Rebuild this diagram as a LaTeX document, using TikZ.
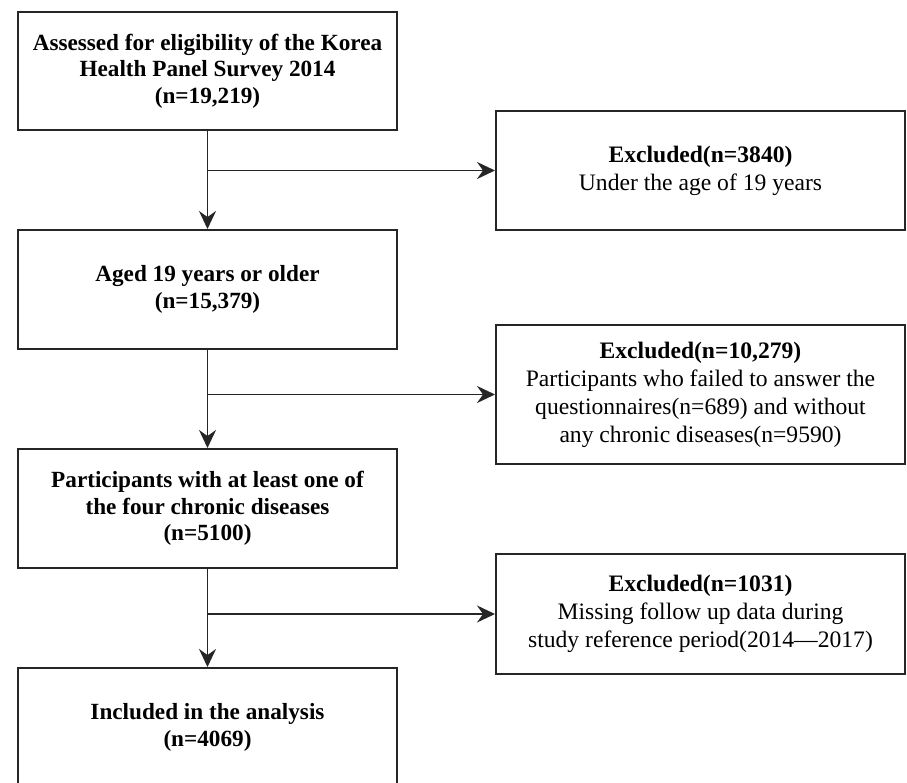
\documentclass[tikz,border=0pt]{standalone}
\usepackage{fontspec}
\setmainfont{Liberation Serif}
\usetikzlibrary{arrows.meta}
\tikzset{
  >={Stealth[length=18pt,width=17pt,inset=6pt]},
  mainbox/.style={draw=black!85,line width=2pt,minimum width=379pt,inner sep=0pt,align=center,font=\fontsize{23.2}{26.5}\selectfont\bfseries},
  exclbox/.style={draw=black!85,line width=2pt,minimum width=409pt,inner sep=0pt,align=center,font=\fontsize{23.6}{28}\selectfont},
  flow/.style={draw=black!85,line width=1.8pt}
}
\begin{document}
\begin{tikzpicture}[x=1pt,y={(0pt,-1pt)}]
			\useasboundingbox (0,0) rectangle (907,782);
			\clip (0,0) rectangle (907,782);
			% Các hộp chính
			\node[mainbox,minimum height=118pt] (assess) at (207.5,71) {Assessed for eligibility of the Korea\\Health Panel Survey 2014\\(n=19,219)};
			\node[mainbox,minimum height=119pt] (aged) at (207.5,289.5) {Aged 19 years or older\\(n=15,379)};
			\node[mainbox,minimum height=119pt] (chronic) at (207.5,508.5) {Participants with at least one of\\the four chronic diseases\\(n=5100)};
			\node[mainbox,minimum height=119pt] (included) at (207.5,727.5) {Included in the analysis\\(n=4069)};
			% Các hộp loại trừ
			\node[exclbox,minimum height=119pt] (excl1) at (700.5,170.5) {\textbf{Excluded(n=3840)}\\Under the age of 19 years};
			\node[exclbox,minimum height=139pt] (excl2) at (700.5,394.5) {\textbf{Excluded(n=10,279)}\\Participants who failed to answer the\\questionnaires(n=689) and without\\any chronic diseases(n=9590)};
			\node[exclbox,minimum height=120pt] (excl3) at (700.5,614) {\textbf{Excluded(n=1031)}\\Missing follow up data during\\study reference period(2014---2017)};
			% Mũi tên dọc
			\draw[flow,->] (assess) -- (aged);
			\draw[flow,->] (aged) -- (chronic);
			\draw[flow,->] (chronic) -- (included);
			% Mũi tên ngang
			\draw[flow,->] (assess.south |- excl1.west) -- (excl1.west);
			\draw[flow,->] (aged.south |- excl2.west) -- (excl2.west);
			\draw[flow,->] (chronic.south |- excl3.west) -- (excl3.west);
		\end{tikzpicture}
\end{document}
